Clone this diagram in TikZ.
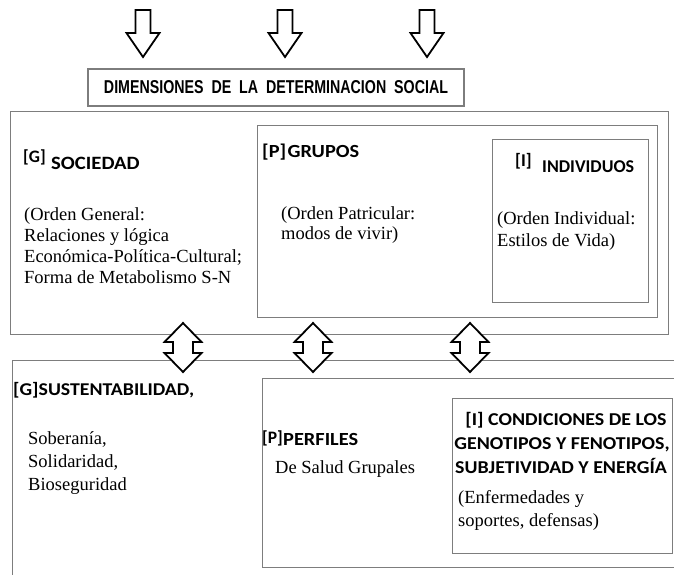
\documentclass[tikz,border=0pt]{standalone}
\usepackage{fontspec}
\usepackage{graphicx}
\setmainfont{Liberation Serif}
\newfontfamily\hdfont{Carlito}
\newfontfamily\hdwide{Carlito}[FakeStretch=1.1]
\newfontfamily\ttlfont{Liberation Sans}
\definecolor{boxgray}{RGB}{125,125,125}
\tikzset{
  box/.style={draw=boxgray, line width=1.3pt, anchor=north west, inner sep=0pt},
  arrowshape/.style={draw=black, line width=1.8pt, fill=white, line join=miter},
  body/.style={anchor=base west, inner sep=0pt, align=left, font=\fontsize{18.5}{21}\selectfont},
  head/.style={anchor=base west, inner sep=0pt, font=\hdwide\bfseries\fontsize{#1}{20}\selectfont},
  head/.default=18.5,
  tag/.style={anchor=base west, inner sep=0pt, font=\hdfont\bfseries\fontsize{#1}{20}\selectfont},
  tag/.default=17.5,
  headc/.style={anchor=base, inner sep=0pt, font=\hdwide\bfseries\fontsize{18.1}{20}\selectfont},
  downarrow/.pic={\draw[arrowshape] (-7.5,0) -- (-7.5,23) -- (-16.5,23) -- (0,47) -- (16.5,23) -- (7.5,23) -- (7.5,0) -- cycle;},
  updown/.pic={\draw[arrowshape] (0,0) -- (18.5,19) -- (10,19) -- (10,30) -- (18.5,30) -- (0,49) -- (-18.5,30) -- (-10,30) -- (-10,19) -- (-18.5,19) -- cycle;}
}
\begin{document}
\begin{tikzpicture}[x=1pt,y=-1pt]
\clip (0,0) rectangle (674,574);
\fill[white] (0,0) rectangle (674,574);

% boxes
\node[box, minimum width=658pt, minimum height=223pt] (top) at (10,111) {};
\node[box, minimum width=400pt, minimum height=192pt] (grp) at (257,125) {};
\node[box, minimum width=156pt, minimum height=163pt] (ind) at (492,139) {};
\node[box, minimum width=700pt, minimum height=240pt] (bot) at (12,360) {};
\node[box, minimum width=440pt, minimum height=189pt] (perf) at (262,378) {};
\node[box, minimum width=220pt, minimum height=155pt] (cond) at (452,398) {};
\node[box, anchor=center, minimum width=376pt, minimum height=37pt] (title) at (276,87.5)
  {\resizebox{344pt}{13pt}{\ttlfont\bfseries DIMENSIONES\ \ DE\ \ LA\ \ DETERMINACION\ \ SOCIAL}};

% arrows
\pic at (143,10) {downarrow};
\pic at (285,10) {downarrow};
\pic at (427,10) {downarrow};
\pic at (183,323) {updown};
\pic at (313,323) {updown};
\pic at (470,323) {updown};

% top texts
\node[tag=17.5] (g1) at (23,162) {[G]};
\node[head=18.8] (soc) at (51,169) {SOCIEDAD};
\node[body] (socT) at (24,283) {(Orden General:\\Relaciones y lógica\\Económica-Política-Cultural;\\Forma de Metabolismo S-N};
\node[head=18.5] (grupos) at (262,157) {[P]\hspace{1.5pt}GRUPOS};
\node[body, font=\fontsize{18.5}{20.5}\selectfont] (grpT) at (281,239.5) {(Orden Patricular:\\modos de vivir)};
\node[tag=18] (i1) at (515,166) {[I]};
\node[tag=18] (indiv) at (542,172) {INDIVIDUOS};
\node[body, font=\fontsize{18.5}{22}\selectfont] (indT) at (497,246) {(Orden Individual:\\Estilos de Vida)};

% bottom texts
\node[head=18] (sust) at (13,395) {[G]SUSTENTABILIDAD,};
\node[body, font=\fontsize{18.5}{23}\selectfont] (sustT) at (28,490) {Soberanía,\\Solidaridad,\\Bioseguridad};
\node[tag=17.5] (p2) at (262,443) {[P]};
\node[head=18.5] (perfiles) at (283,445) {PERFILES};
\node[body] (perfT) at (275,473) {De Salud Grupales};
\node[headc] (c1) at (566,425) {[I] CONDICIONES DE LOS};
\node[headc] (c2) at (562,449) {GENOTIPOS Y FENOTIPOS,};
\node[headc] (c3) at (561,473) {SUBJETIVIDAD Y ENERGÍA};
\node[body, font=\fontsize{18.5}{23}\selectfont] (condT) at (458,526) {(Enfermedades y\\soportes, defensas)};
\end{tikzpicture}
\end{document}
